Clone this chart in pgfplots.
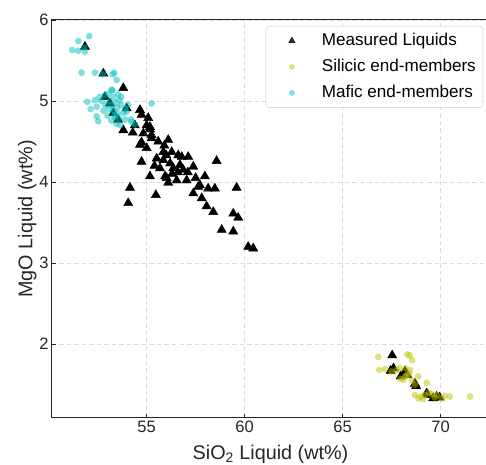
\documentclass[border=0pt]{standalone}
\usepackage{fontspec}
\setmainfont{Liberation Sans}
\usepackage{pgfplots}
\pgfplotsset{compat=1.18}
\definecolor{mafic}{rgb}{0,0.75,0.75}
\definecolor{silicic}{rgb}{0.75,0.75,0}
\definecolor{spine}{HTML}{262626}
\begin{document}
\begin{tikzpicture}
\useasboundingbox (-52bp,-47.3bp) rectangle (434bp,417.7bp);
\begin{axis}[
  scale only axis, width=437bp, height=397.7bp,
  xmin=50.17, xmax=72.47, ymin=1.09, ymax=6.0,
  xtick={55,60,65,70}, ytick={2,3,4,5,6},
  /pgf/number format/assume math mode=true,
  tick label style={font=\fontsize{16.5bp}{19bp}\selectfont, text=spine},
  label style={font=\fontsize{19.8bp}{23bp}\selectfont, text=spine},
  xlabel={SiO\textsubscript{2} Liquid (wt\%)},
  ylabel={MgO Liquid (wt\%)},
  xlabel style={yshift=-5bp},
  ylabel style={yshift=-4bp},
  tick align=inside, major tick length=4bp,
  tick style={color=spine, line width=0.8bp},
  axis line style={color=spine, line width=1bp},
  xtick pos=bottom, ytick pos=left,
  grid=major,
  major grid style={dash pattern=on 4.5bp off 3bp, color=black!14, line width=0.8bp},
  legend cell align=left,
  legend style={at={(1,1)}, anchor=north east, xshift=-6bp, yshift=-6bp,
    draw=black!20, rounded corners=3bp, fill=white, fill opacity=0.8, text opacity=1,
    font=\fontsize{17.1bp}{20bp}\selectfont, inner xsep=5bp, inner ysep=5bp,
    row sep=6.5bp,
    nodes={text height=12bp, text depth=3.5bp, inner ysep=2bp}},
  myleg/.style={legend image code/.code={\path[draw=none,fill=none] (0,0) -- (49bp,0);
     \draw[##1, only marks, every mark/.append style={scale=#1}] plot coordinates {(21bp,0)};}},
]
\addplot[only marks, mark=triangle*, mark size=5.3bp, draw=black, fill=black, myleg=0.7] coordinates {
(51.85,5.67) (52.79,5.34) (53.81,5.16) (52.87,5.05) (53.13,4.97) (53.30,4.85)
(53.54,4.77) (53.98,4.91) (53.81,4.64) (54.66,4.89) (54.74,4.83) (55.08,4.79)
(55.17,4.68) (54.29,4.61) (54.83,4.60) (55.17,4.65) (55.25,4.54) (54.74,4.49)
(55.25,4.58) (55.59,4.50) (56.10,4.52) (54.66,4.46) (55.00,4.42) (55.85,4.37)
(56.28,4.37) (56.00,4.33) (56.61,4.33) (57.12,4.31) (56.79,4.31) (54.74,4.25)
(55.51,4.29) (55.85,4.27) (55.17,4.07) (55.68,4.17) (55.94,4.07) (56.36,4.17)
(56.70,4.21) (56.87,4.15) (57.38,4.19) (56.02,4.05) (56.53,4.02) (57.04,4.02)
(56.10,3.99) (56.30,4.10) (56.60,4.12) (57.10,4.12) (57.72,3.96) (57.97,4.07)
(58.14,3.92) (58.48,3.92) (58.57,4.26) (57.63,3.94) (54.15,3.93) (54.06,3.74)
(55.47,3.84) (59.59,3.93) (57.38,3.86) (57.81,3.80) (58.06,3.70) (58.40,3.63)
(59.42,3.61) (59.67,3.56) (58.83,3.41) (59.42,3.39) (60.18,3.20) (60.44,3.18)
(55.40,4.20) (56.20,4.23) (57.50,4.05) (55.90,4.45) (54.40,4.70) (55.00,4.70)
(67.53,1.86) (67.45,1.67) (67.60,1.70) (67.96,1.60) (68.18,1.66) (68.30,1.62)
(68.69,1.51) (68.75,1.48) (69.29,1.39) (69.35,1.37) (69.62,1.33) (69.80,1.35)
(69.95,1.34)
};
\addlegendentry{Measured Liquids}
\addplot[only marks, mark=*, mark size=3.4bp, draw=none, fill=silicic, fill opacity=0.5,
  mark options={draw=none, draw opacity=0, fill=silicic, fill opacity=0.5}, myleg=0.85] coordinates {
(66.82,1.84) (68.43,1.86) (68.55,1.80) (68.30,1.87) (66.87,1.68) (67.16,1.69)
(67.50,1.66) (67.76,1.68) (67.90,1.70) (68.20,1.70) (68.43,1.68) (68.30,1.62)
(68.09,1.56) (68.20,1.60) (67.95,1.57) (68.86,1.60) (69.29,1.52) (68.55,1.55)
(68.69,1.50) (68.69,1.37) (68.86,1.33) (69.00,1.35) (69.20,1.37) (69.40,1.40)
(69.55,1.38) (69.80,1.37) (70.05,1.33) (70.20,1.36) (70.47,1.35) (71.50,1.35)
(69.10,1.32) (69.70,1.34) (68.40,1.63)
};
\addlegendentry{Silicic end-members}
\addplot[only marks, mark=*, mark size=3.4bp, draw=none, fill=mafic, fill opacity=0.5,
  mark options={draw=none, draw opacity=0, fill=mafic, fill opacity=0.5}, myleg=0.85] coordinates {
(52.07,5.80) (51.51,5.74) (51.20,5.63) (51.51,5.62) (51.85,5.61) (51.82,5.66)
(51.68,5.35) (52.36,5.35) (52.76,5.33) (53.27,5.33) (53.35,5.35) (53.47,5.26)
(53.25,5.13) (51.97,4.99) (52.14,4.90) (52.36,5.01) (52.45,4.81) (52.53,4.75)
(52.87,5.07) (53.21,5.14) (55.25,4.97) (53.10,5.00) (53.20,4.95) (53.30,5.05)
(53.40,4.98) (53.50,4.92) (53.60,5.01) (53.70,4.95) (53.50,4.85) (53.30,4.88)
(53.40,4.80) (53.60,4.78) (53.80,4.85) (53.90,4.90) (53.10,4.90) (52.90,4.95)
(52.70,5.00) (52.80,4.88) (53.00,4.82) (53.20,4.76) (53.45,4.72) (53.65,4.70)
(54.23,4.74) (53.98,4.87) (54.05,4.95) (53.70,5.05) (53.55,5.08) (52.60,5.05)
(53.90,4.77) (53.05,5.09) (52.45,4.93) (54.20,4.77) (54.40,4.71) (53.35,4.83)
};
\addlegendentry{Mafic end-members}
\end{axis}
\end{tikzpicture}
\end{document}
